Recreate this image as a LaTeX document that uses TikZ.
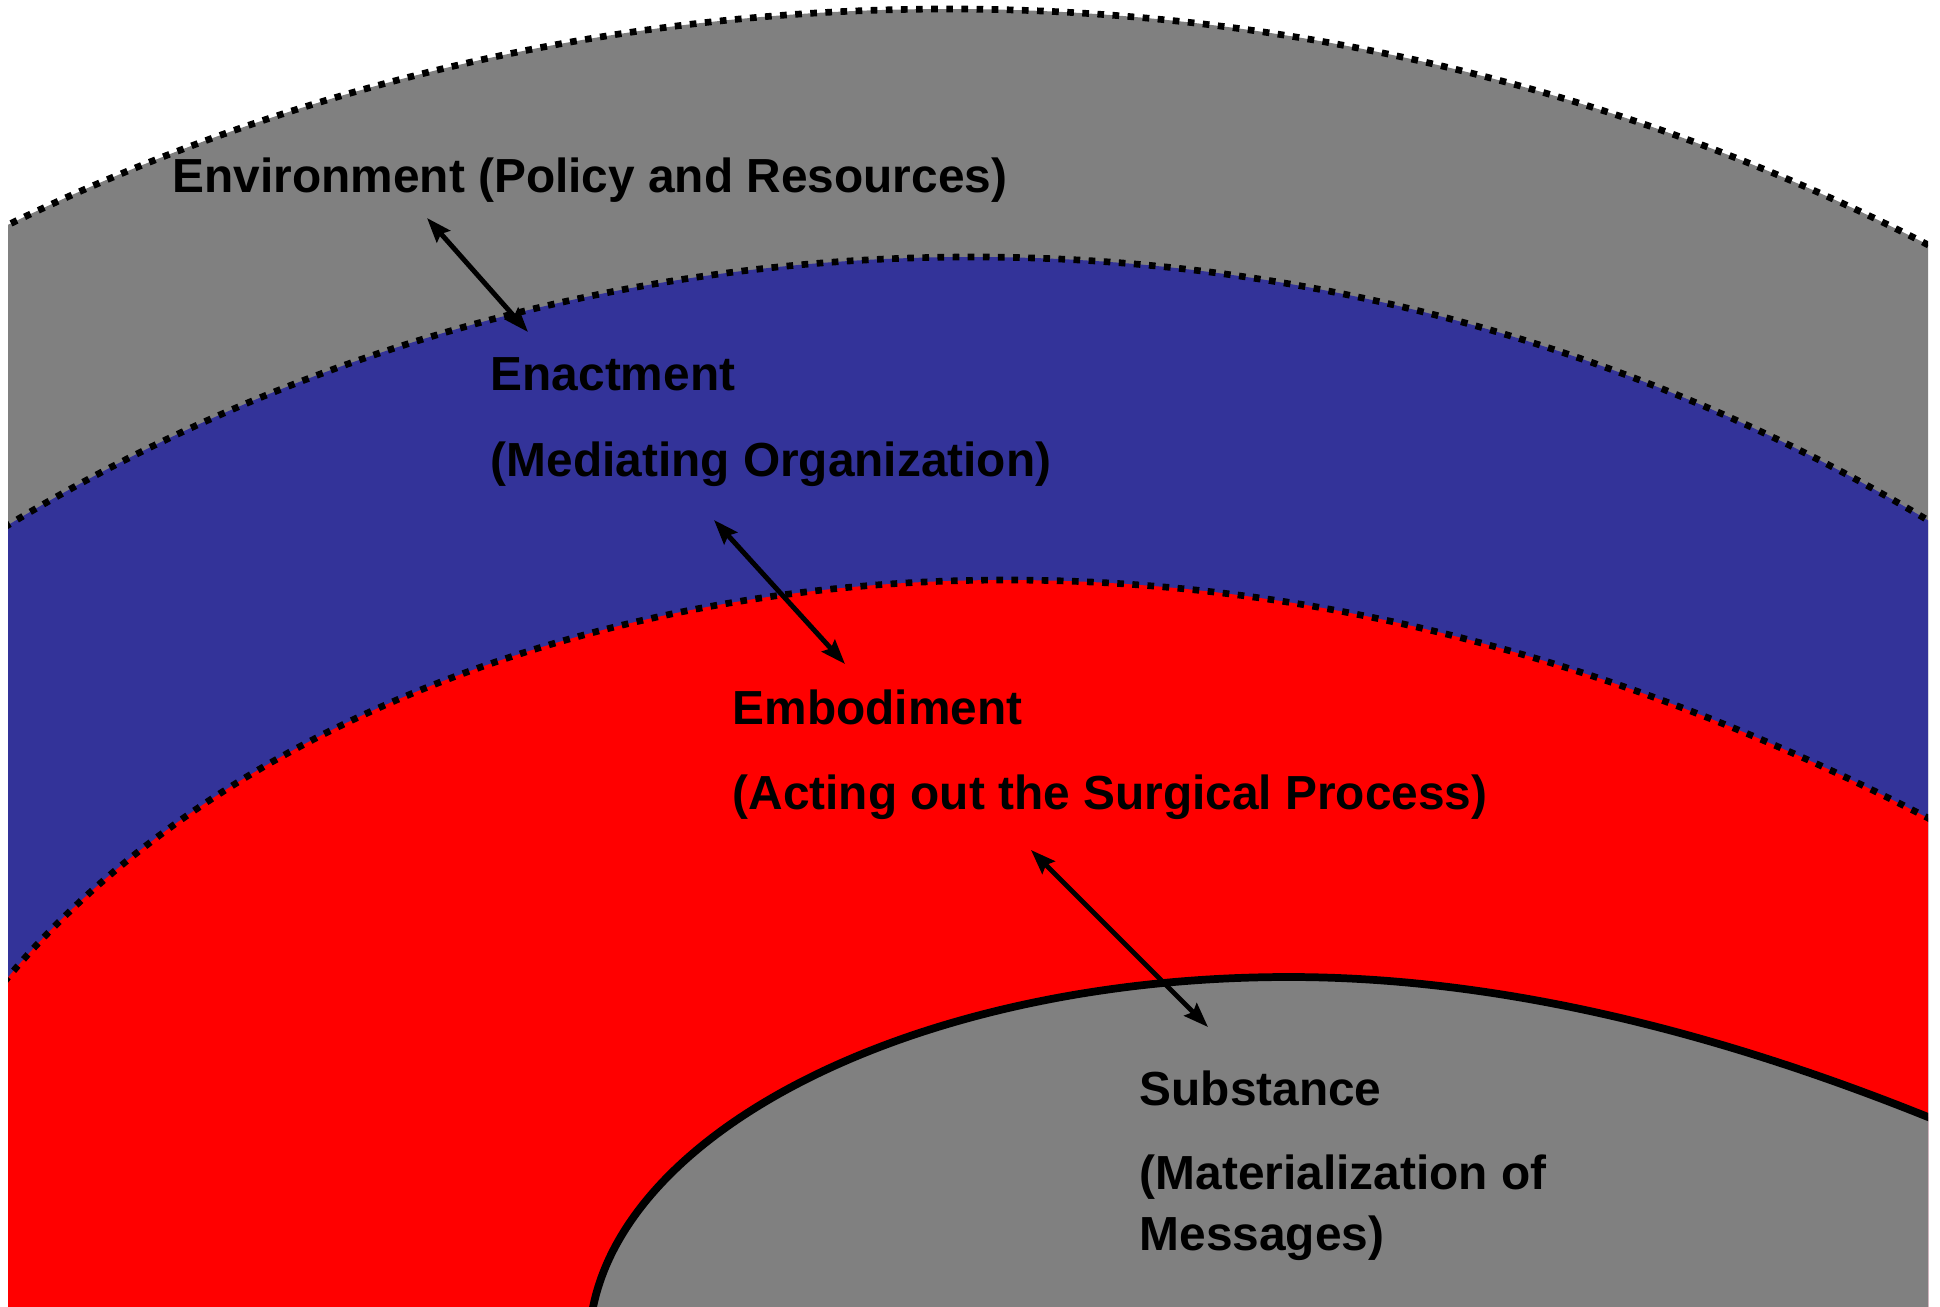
\documentclass[tikz,border=0pt]{standalone}
\usepackage{fontspec}
\setmainfont{Liberation Sans}
\usepackage{xcolor}
\usetikzlibrary{arrows.meta}
\definecolor{ringgray}{RGB}{128,128,128}
\definecolor{ringblue}{RGB}{51,51,153}
\definecolor{ringred}{RGB}{255,0,0}
\tikzset{
  ring border/.style = {line width=1.9pt, dash pattern=on 1.9pt off 2.4pt}
}
\tikzset{
  core border/.style = {line width=2.2pt}
}
\tikzset{
  every node/.style = {font = \fontsize{13.6}{16}\selectfont\bfseries}
}
\tikzset{
  ring label/.style = {anchor=base west, inner sep=0pt}
}
\tikzset{
    >={Stealth[length=7pt,width=5pt,inset=1pt]}
}

\begin{document}
\begin{tikzpicture}[x=0.01cm, y=-0.01cm]
  \useasboundingbox (0,0) rectangle (1940,1306);

  \begin{scope}
    \clip (8,0) rectangle (1928,1306);
    \filldraw[ring border, fill=ringgray] (948,2159) circle[radius=2150];
    \filldraw[ring border, fill=ringblue] (972,2122) circle[radius=1865];
    \filldraw[ring border, fill=ringred]
      (-144,1370) .. controls (-144,934) and (371,580) .. (1006,580)
      .. controls (1314,580) and (1621,659) .. (1928,818)
      -- (1990,851) -- (1990,1400) -- (-144,1400) -- cycle;
    \filldraw[core border, fill=ringgray]
      (589,1347) .. controls (589,1143) and (903,977) .. (1289,977)
      .. controls (1482,977) and (1693,1023) .. (1923,1115)
      -- (1990,1142) -- (1990,1400) -- (589,1400) -- cycle;
  \end{scope}

  \node[ring label] (env) at (172,192) {Environment (Policy and Resources)};
  \node[ring label] (enact) at (490,390) {Enactment};
  \node[ring label] (enactnote) at (490,476) {(Mediating Organization)};
  \node[ring label] (embod) at (732,724) {Embodiment};
  \node[ring label] (embodnote) at (732,809) {(Acting out the Surgical Process)};
  \node[ring label] (subst) at (1139,1105) {Substance};
  \node[ring label] (substnote) at (1139,1189) {(Materialization of};
  \node[ring label] (substnotetwo) at (1139,1250) {Messages)};

  \coordinate (envlow) at (427,218);
  \coordinate (enacthigh) at (528,332);
  \coordinate (enactlow) at (714,520);
  \coordinate (embodhigh) at (845,664);
  \coordinate (embodlow) at (1031,850);
  \coordinate (substhigh) at (1208,1027);

  \draw[<->, line width=1.4pt] (envlow) -- (enacthigh);
  \draw[<->, line width=1.4pt] (enactlow) -- (embodhigh);
  \draw[<->, line width=1.4pt] (embodlow) -- (substhigh);
\end{tikzpicture}
\end{document}
